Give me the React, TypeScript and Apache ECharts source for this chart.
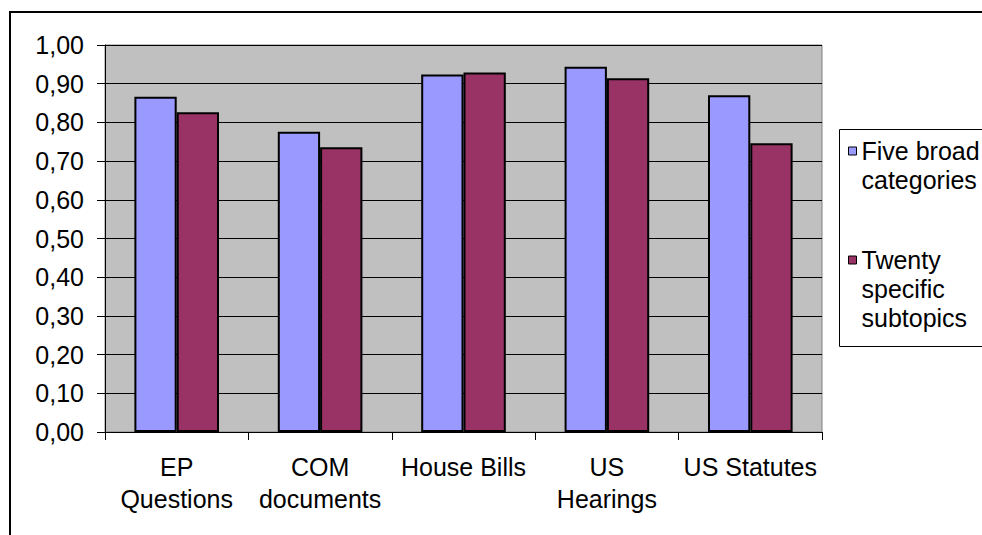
import React, { useEffect, useRef } from "react";
import * as echarts from "echarts";

const categories = ["EP\nQuestions", "COM\ndocuments", "House Bills", "US\nHearings", "US Statutes"];
const fiveBroad = [0.866, 0.776, 0.924, 0.944, 0.870];
const twentySpecific = [0.826, 0.736, 0.929, 0.914, 0.746];
const seriesNames = ["Five broad categories", "Twenty specific subtopics"];
const legendLabels = ["\nFive broad\ncategories", "\n\nTwenty\nspecific\nsubtopics"];

const FONT = "'Liberation Sans', Arial, sans-serif";

export default function App() {
  const ref = useRef<HTMLDivElement>(null);
  useEffect(() => {
    if (!ref.current) return;
    const chart = echarts.init(ref.current, undefined, { renderer: "svg" });
    chart.setOption({
      animation: false,
      backgroundColor: "#ffffff",
      textStyle: { fontFamily: FONT, color: "#000" },
      graphic: [
        {
          type: "rect",
          z: -10,
          silent: true,
          shape: { x: 10, y: 12, width: 1000, height: 560 },
          style: { fill: "none", stroke: "#000", lineWidth: 2 },
        },
        {
          type: "rect",
          z: 0,
          silent: true,
          shape: { x: 839.5, y: 129.5, width: 200, height: 217 },
          style: { fill: "#ffffff", stroke: "#000", lineWidth: 1 },
        },
      ],
      grid: {
        left: 105,
        right: 160,
        top: 45,
        bottom: 103,
        show: true,
        backgroundColor: "#C0C0C0",
        borderColor: "#808080",
        borderWidth: 1,
        containLabel: false,
      },
      legend: {
        orient: "vertical",
        left: 848,
        top: 107.5,
        padding: 0,
        itemGap: -7,
        itemWidth: 8,
        itemHeight: 8,
        icon: "rect",
        z: 5,
        itemStyle: { borderColor: "#000", borderWidth: 1 },
        formatter: (name: string) => legendLabels[seriesNames.indexOf(name)],
        textStyle: { fontFamily: FONT, fontSize: 25, color: "#000", lineHeight: 29 },
        data: seriesNames,
      },
      xAxis: {
        type: "category",
        data: categories,
        axisLine: { show: true, lineStyle: { color: "#000", width: 1 } },
        axisTick: { show: true, length: 8, lineStyle: { color: "#000" } },
        axisLabel: {
          interval: 0,
          margin: 19,
          fontFamily: FONT,
          fontSize: 25,
          lineHeight: 32,
          color: "#000",
        },
        splitLine: { show: false },
      },
      yAxis: {
        type: "value",
        min: 0,
        max: 1,
        interval: 0.1,
        axisLine: { show: true, lineStyle: { color: "#000", width: 1 } },
        axisTick: { show: true, length: 8, lineStyle: { color: "#000" } },
        axisLabel: {
          margin: 21,
          fontFamily: FONT,
          fontSize: 25,
          color: "#000",
          formatter: (v: number) => v.toFixed(2).replace(".", ","),
        },
        splitLine: { show: true, lineStyle: { color: "#000", width: 1 } },
      },
      series: [
        {
          name: seriesNames[0],
          type: "bar",
          data: fiveBroad,
          barGap: "0%",
          barCategoryGap: "41%",
          itemStyle: { color: "#9999FF", borderColor: "#000", borderWidth: 2 },
        },
        {
          name: seriesNames[1],
          type: "bar",
          data: twentySpecific,
          barGap: "0%",
          barCategoryGap: "41%",
          itemStyle: { color: "#993366", borderColor: "#000", borderWidth: 2 },
        },
      ],
    });
    return () => chart.dispose();
  }, []);
  return (
    <div
      ref={ref}
      style={{ position: "fixed", left: 0, top: 0, width: 982, height: 535 }}
    />
  );
}
